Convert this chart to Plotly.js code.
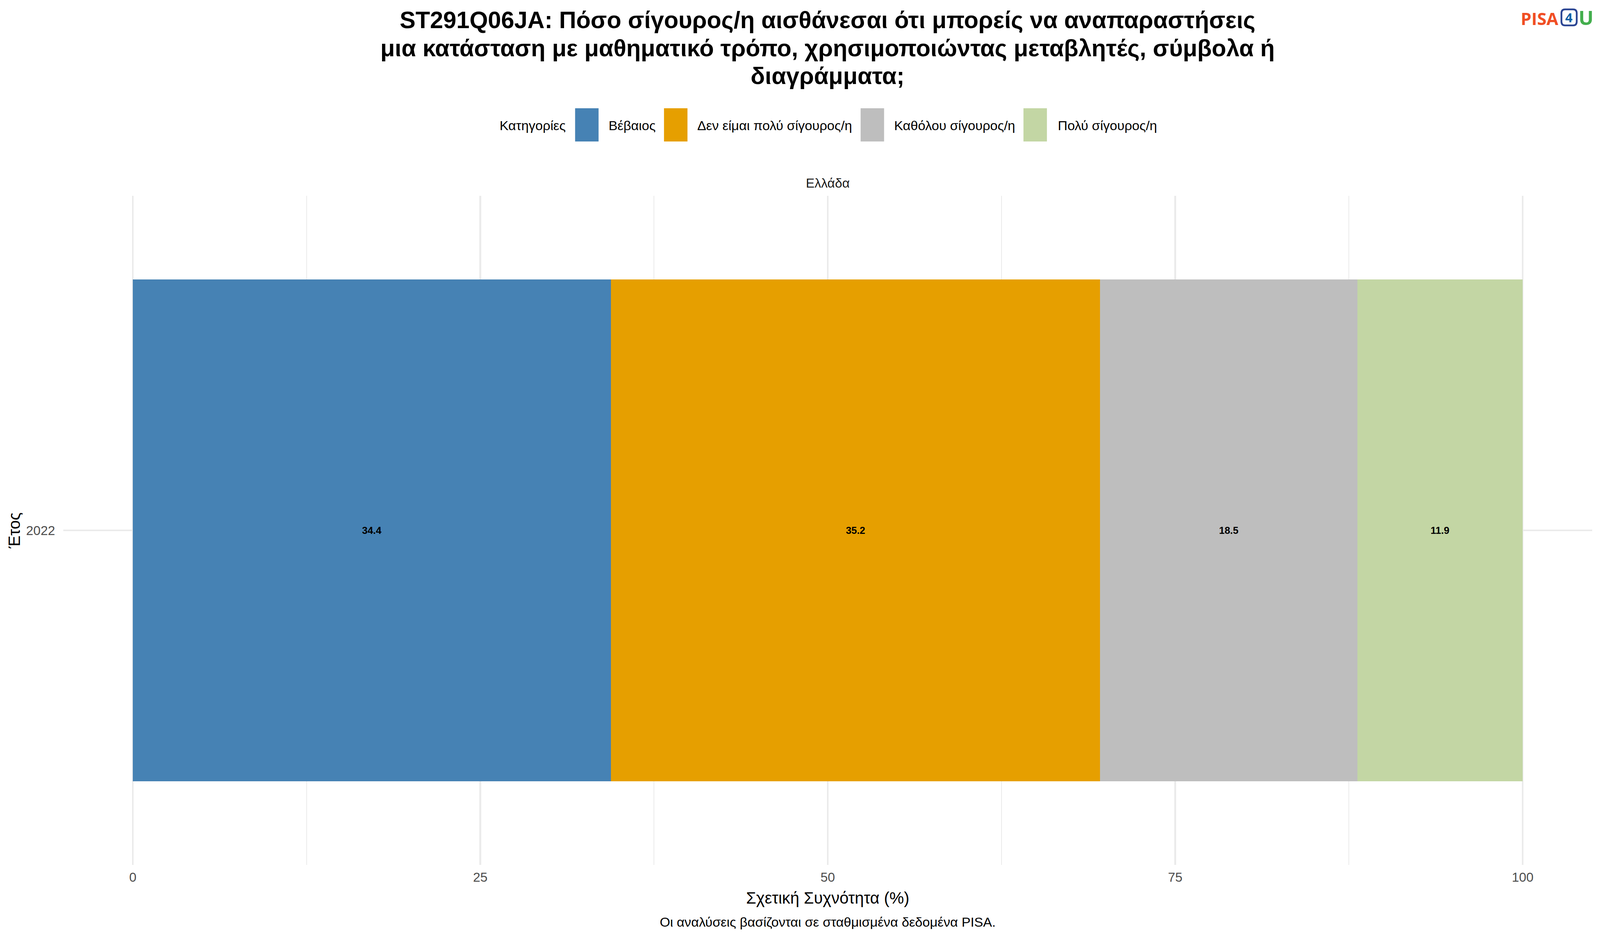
<!DOCTYPE html>
<html><head><meta charset="utf-8">
<script src="https://cdn.plot.ly/plotly-3.0.1.min.js"></script>
<style>html,body{margin:0;padding:0;background:#fff;overflow:hidden}</style></head>
<body><div id="chart"></div>
<script>
const categories = ["Βέβαιος","Δεν είμαι πολύ σίγουρος/η","Καθόλου σίγουρος/η","Πολύ σίγουρος/η"];
const values = [34.4,35.2,18.5,11.9];
const colors = ["#4682B4","#E69F00","#BEBEBE","#C3D6A4"];
const years = ["2022"];
const xTicks = [0,25,50,75,100];
const minorTicks = [12.5,37.5,62.5,87.5];
const titleLines = ["ST291Q06JA: Πόσο σίγουρος/η αισθάνεσαι ότι μπορείς να αναπαραστήσεις","μια κατάσταση με μαθηματικό τρόπο, χρησιμοποιώντας μεταβλητές, σύμβολα ή","διαγράμματα;"];

// The reference is 4500x2400; everything below is placed in that frame and mapped to the real window.
const W0=4500,H0=2400;
const W=Math.min(window.innerWidth,W0),H=window.innerHeight||H0;
const sx=W/W0,sy=H/H0;
const FONT="Liberation Sans, Arial, sans-serif";
const L=177.5,R=4477.5,T=501,B=2213;
const CX=(L+R)/2;
const px=x=>(x-L)/(R-L), py=y=>(B-y)/(B-T);
const fs=s=>s*sx;

const traces = categories.map((c,i)=>({
  type:"bar",orientation:"h",name:c,y:years,x:[values[i]],
  marker:{color:colors[i],line:{width:0}},
  text:[values[i].toFixed(1)],textposition:"inside",insidetextanchor:"middle",textangle:0,
  textfont:{family:FONT,size:fs(28),color:"#000",weight:"bold"},
  showlegend:false,hoverinfo:"x+name"
}));

const swatchX=[1617,1867,2420,2878], labelX=[1710,1960,2513,2973];
const shapes=[], annotations=[];
const txt=(t,x,y,size,color,extra)=>Object.assign({text:t,xref:"paper",yref:"paper",x:px(x),y:py(y),xanchor:"left",yanchor:"middle",showarrow:false,borderpad:0,font:{family:FONT,size:fs(size),color}},extra||{});
categories.forEach((c,i)=>{
  shapes.push({type:"rect",xref:"paper",yref:"paper",x0:px(swatchX[i]),x1:px(swatchX[i]+66),y0:py(277),y1:py(362),fillcolor:colors[i],line:{width:0},layer:"above"});
  annotations.push(txt(c,labelX[i],321,37.5,"#000"));
});
annotations.push(txt("Κατηγορίες",1404,321,37.5,"#000"));
annotations.push(txt("Ελλάδα",CX,468,36.67,"#1A1A1A",{xanchor:"center"}));
annotations.push(txt("Οι αναλύσεις βασίζονται σε σταθμισμένα δεδομένα PISA.",CX,2359,37.5,"#000",{xanchor:"center"}));
// logo
const LOGO="Open Sans, Noto Sans, sans-serif";
const logo=(t,x,y,size,color,anchor)=>({text:"<b>"+t+"</b>",xref:"paper",yref:"paper",x:px(x),y:py(y),xanchor:anchor,yanchor:"middle",showarrow:false,borderpad:0,font:{family:LOGO,size:fs(size),color}});
annotations.push(logo("PISA",4384,47,48,"#F04E23","right"));
annotations.push(logo("4",4412.5,45,36,"#0A5FA5","center"));
annotations.push(logo("U",4460,45,56,"#43AE4D","center"));
const rr=(x0,x1,y0,y1,r)=>{const X=px,Y=py;return `M${X(x0+r)},${Y(y0)} L${X(x1-r)},${Y(y0)} Q${X(x1)},${Y(y0)} ${X(x1)},${Y(y0+r)} L${X(x1)},${Y(y1-r)} Q${X(x1)},${Y(y1)} ${X(x1-r)},${Y(y1)} L${X(x0+r)},${Y(y1)} Q${X(x0)},${Y(y1)} ${X(x0)},${Y(y1-r)} L${X(x0)},${Y(y0+r)} Q${X(x0)},${Y(y0)} ${X(x0+r)},${Y(y0)} Z`;};
shapes.push({type:"path",xref:"paper",yref:"paper",path:rr(4391,4434,24,65,10),line:{color:"#2B4593",width:5*sx},fillcolor:"rgba(0,0,0,0)",layer:"above"});

const layout={
  width:W,height:H,paper_bgcolor:"#fff",plot_bgcolor:"#fff",barmode:"stack",bargap:0.1,
  margin:{l:L*sx,r:(W0-R)*sx,t:T*sy,b:(H0-B)*sy,pad:0},showlegend:false,
  font:{family:FONT},
  title:{text:titleLines.join("<br>"),x:CX/W0,xanchor:"center",y:0.98,yanchor:"top",font:{family:FONT,size:fs(66.67),color:"#000",weight:"bold"}},
  xaxis:{range:[-5,105],tickvals:xTicks,ticktext:xTicks.map(String),showgrid:true,gridcolor:"#EBEBEB",gridwidth:4.6*sx,
    minor:{tickvals:minorTicks,showgrid:true,gridcolor:"#EBEBEB",gridwidth:2.3*sx,ticks:""},
    zeroline:false,showline:false,ticks:"",ticklen:0,ticklabelstandoff:9,tickfont:{family:FONT,size:fs(36.67),color:"#4D4D4D"},
    title:{text:"Σχετική Συχνότητα (%)",font:{family:FONT,size:fs(45.83),color:"#000"},standoff:20},automargin:false},
  yaxis:{type:"category",range:[-0.6,0.6],showgrid:true,gridcolor:"#EBEBEB",gridwidth:4.6,zeroline:false,showline:false,ticks:"",ticklabelstandoff:20,
    tickfont:{family:FONT,size:fs(36.67),color:"#4D4D4D"},title:{text:"Έτος",font:{family:FONT,size:fs(45.83),color:"#000"},standoff:2},automargin:false},
  shapes,annotations
};
Plotly.newPlot("chart",traces,layout,{staticPlot:true,displayModeBar:false}).then(()=>{
  const el=document.querySelector(".gtitle");
  const base=72*sy;
  el.removeAttribute("transform");
  el.setAttribute("y",base);
  document.querySelectorAll(".gtitle tspan.line").forEach((t,i)=>{
    t.setAttribute("y",base);
    t.setAttribute("dy",(71.5*i*sy)+"px");
  });
});
</script></body></html>
